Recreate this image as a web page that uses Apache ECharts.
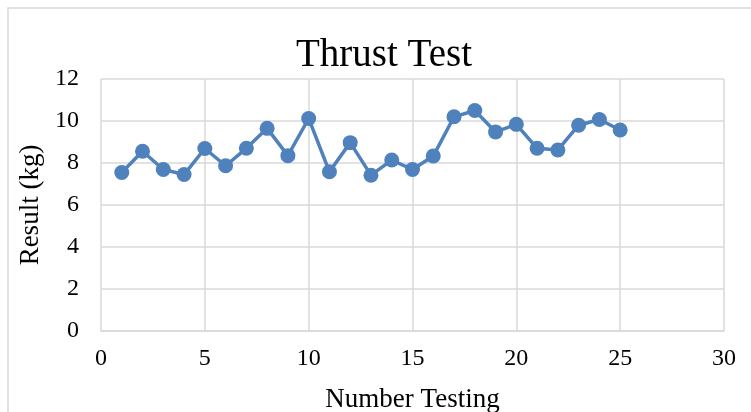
<!DOCTYPE html>
<html><head><meta charset="utf-8">
<script src="https://cdn.jsdelivr.net/npm/echarts@6/dist/echarts.min.js"></script>
<style>html,body{margin:0;padding:0;background:#fff}#c{width:751px;height:412px}</style>
</head><body><div id="c"></div>
<script>
const testNumbers = [1,2,3,4,5,6,7,8,9,10,11,12,13,14,15,16,17,18,19,20,21,22,23,24,25];
const results = [7.55,8.56,7.69,7.45,8.69,7.87,8.7,9.65,8.35,10.12,7.58,8.97,7.42,8.14,7.69,8.33,10.2,10.5,9.48,9.84,8.7,8.62,9.8,10.07,9.57];
const titleText = "Thrust Test";
const xName = "Number Testing";
const yName = "Result (kg)";

const font = "'Liberation Serif', 'DejaVu Serif', serif";
const chart = echarts.init(document.getElementById('c'), null, {renderer:'canvas'});
chart.setOption({
  animation:false,
  backgroundColor:'#fff',
  graphic:[{type:'rect',shape:{x:8,y:8,width:900,height:600},style:{fill:'none',stroke:'#d9d9d9',lineWidth:1.5},silent:true}],
  title:{text:titleText,left:291,top:31,itemGap:0,textStyle:{fontFamily:font,fontSize:39,fontWeight:'normal',color:'#000'}},
  grid:{left:101,right:27,top:79,bottom:81,outerBoundsMode:'none',containLabel:false},
  xAxis:{type:'value',min:0,max:30,interval:5,name:xName,nameLocation:'middle',nameGap:55,
    nameTextStyle:{fontFamily:font,fontSize:27,color:'#000'},
    axisLine:{show:true,lineStyle:{color:'#d9d9d9',width:1.5}},axisTick:{show:false},
    axisLabel:{fontFamily:font,fontSize:24,color:'#000',margin:16},
    splitLine:{show:true,lineStyle:{color:'#d9d9d9',width:1.5}}},
  yAxis:{type:'value',min:0,max:12,interval:2,name:yName,nameLocation:'middle',nameGap:56,
    nameTextStyle:{fontFamily:font,fontSize:27,color:'#000'},
    axisLine:{show:false},axisTick:{show:false},
    axisLabel:{fontFamily:font,fontSize:24,color:'#000',margin:22},
    splitLine:{show:true,lineStyle:{color:'#d9d9d9',width:1.5}}},
  series:[{type:'line',data:testNumbers.map((x,i)=>[x,results[i]]),
    symbol:'circle',symbolSize:15,
    lineStyle:{color:'#4f81bd',width:3.5},itemStyle:{color:'#4f81bd'}}]
});
</script></body></html>
